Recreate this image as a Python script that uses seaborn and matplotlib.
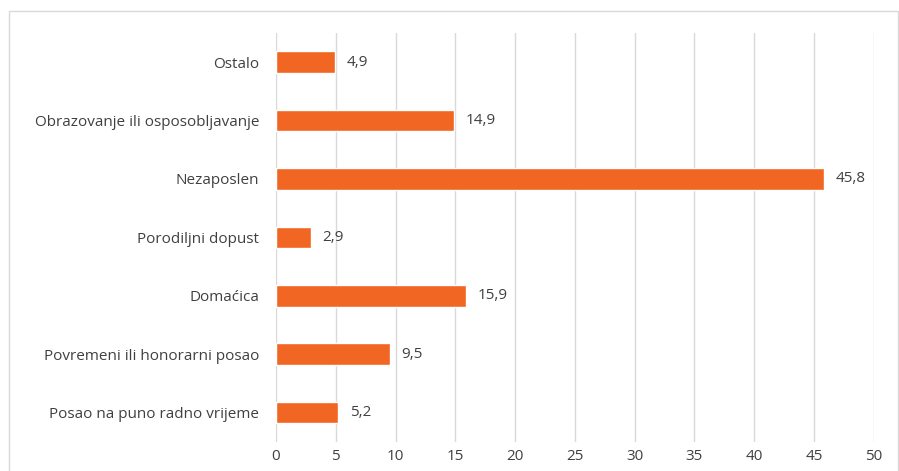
import matplotlib
matplotlib.use("Agg")
import matplotlib.pyplot as plt
import seaborn as sns
import pandas as pd
from matplotlib.patches import Rectangle

# categories, top to bottom as shown
categories = [
    "Ostalo",
    "Obrazovanje ili osposobljavanje",
    "Nezaposlen",
    "Porodiljni dopust",
    "Domaćica",
    "Povremeni ili honorarni posao",
    "Posao na puno radno vrijeme",
]
values = [4.9, 14.9, 45.8, 2.9, 15.9, 9.5, 5.2]
x_ticks = [0, 5, 10, 15, 20, 25, 30, 35, 40, 45, 50]

df = pd.DataFrame({"kategorija": categories, "postotak": values})

sns.set_theme(style="white")
plt.rcParams["font.family"] = ["Open Sans", "DejaVu Sans"]
text_color = "#404040"
bar_color = "#F26624"
fs = 11

fig = plt.figure(figsize=(8.99, 4.71), dpi=100)
ax = fig.add_axes([0.307, 0.062, 0.665, 0.868])

sns.barplot(data=df, x="postotak", y="kategorija", orient="h",
            color=bar_color, width=0.37, saturation=1, ax=ax, zorder=3)

ax.set_xlim(0, 50)
ax.set_xticks(x_ticks)
ax.set_xticklabels([str(t) for t in x_ticks], fontsize=fs, color=text_color)
ax.tick_params(axis="y", labelsize=fs, labelcolor=text_color, length=0, pad=12)
ax.tick_params(axis="x", length=0, pad=5)
ax.set_xlabel("")
ax.set_ylabel("")
ax.grid(axis="x", color="#D9D9D9", linewidth=1, zorder=0)
ax.set_axisbelow(True)
for s in ax.spines.values():
    s.set_visible(False)

# data labels with decimal comma
for i, v in enumerate(values):
    ax.text(v + 1.0, i, f"{v:.1f}".replace(".", ","), va="center", ha="left",
            fontsize=fs, color=text_color)

# chart border
fig.patches.append(Rectangle((9 / 899, -0.01), 889 / 899, 1 - 11 / 471 + 0.01,
                             transform=fig.transFigure, fill=False,
                             edgecolor="#D9D9D9", linewidth=1))

fig.savefig("out.png", dpi=100)
